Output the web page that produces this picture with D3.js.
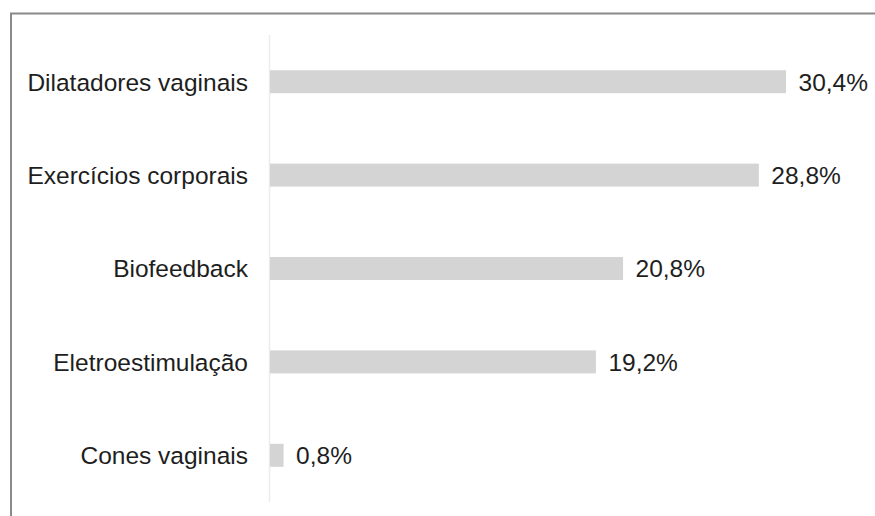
<!DOCTYPE html>
<html>
<head>
<meta charset="utf-8">
<script src="https://cdn.jsdelivr.net/npm/d3@7"></script>
<style>
  html, body { margin: 0; padding: 0; background: #fff; }
  svg { display: block; }
  text { font-family: "Liberation Sans", Arial, sans-serif; }
</style>
</head>
<body>
<svg id="chart" width="875" height="516"></svg>
<script>
const categories = ["Dilatadores vaginais", "Exercícios corporais", "Biofeedback", "Eletroestimulação", "Cones vaginais"];
const values = [30.4, 28.8, 20.8, 19.2, 0.8];
const valueLabels = ["30,4%", "28,8%", "20,8%", "19,2%", "0,8%"];

const svg = d3.select("#chart");
const W = 875, H = 516;

// frame (top + left border)
svg.append("path")
  .attr("d", `M11,${H} V13.5 H${W}`)
  .attr("fill", "none")
  .attr("stroke", "#8a8a8a")
  .attr("stroke-width", 2);

const x = d3.scaleLinear().domain([0, 30.4]).range([270, 786]);
const y = d3.scaleBand().domain(categories).range([35, 502])
  .paddingInner(0.754).paddingOuter(0.377);

// axis line
svg.append("line")
  .attr("x1", x(0) - 0.5).attr("x2", x(0) - 0.5)
  .attr("y1", y.range()[0]).attr("y2", y.range()[1])
  .attr("stroke", "#ececec").attr("stroke-width", 1.5);

const data = categories.map((c, i) => ({ c, v: values[i], l: valueLabels[i] }));

svg.selectAll("rect.bar").data(data).enter().append("rect")
  .attr("class", "bar")
  .attr("x", x(0))
  .attr("y", d => y(d.c))
  .attr("width", d => x(d.v) - x(0))
  .attr("height", y.bandwidth())
  .attr("fill", "#d4d4d4");

svg.selectAll("text.cat").data(data).enter().append("text")
  .attr("class", "cat")
  .attr("x", 248)
  .attr("y", d => y(d.c) + y.bandwidth() / 2)
  .attr("dy", "0.36em")
  .attr("text-anchor", "end")
  .attr("font-size", 24.5)
  .attr("fill", "#1e1e1e")
  .text(d => d.c);

svg.selectAll("text.val").data(data).enter().append("text")
  .attr("class", "val")
  .attr("x", d => x(d.v) + 12.5)
  .attr("y", d => y(d.c) + y.bandwidth() / 2)
  .attr("dy", "0.36em")
  .attr("font-size", 24.5)
  .attr("fill", "#1e1e1e")
  .text(d => d.l);
</script>
</body>
</html>
